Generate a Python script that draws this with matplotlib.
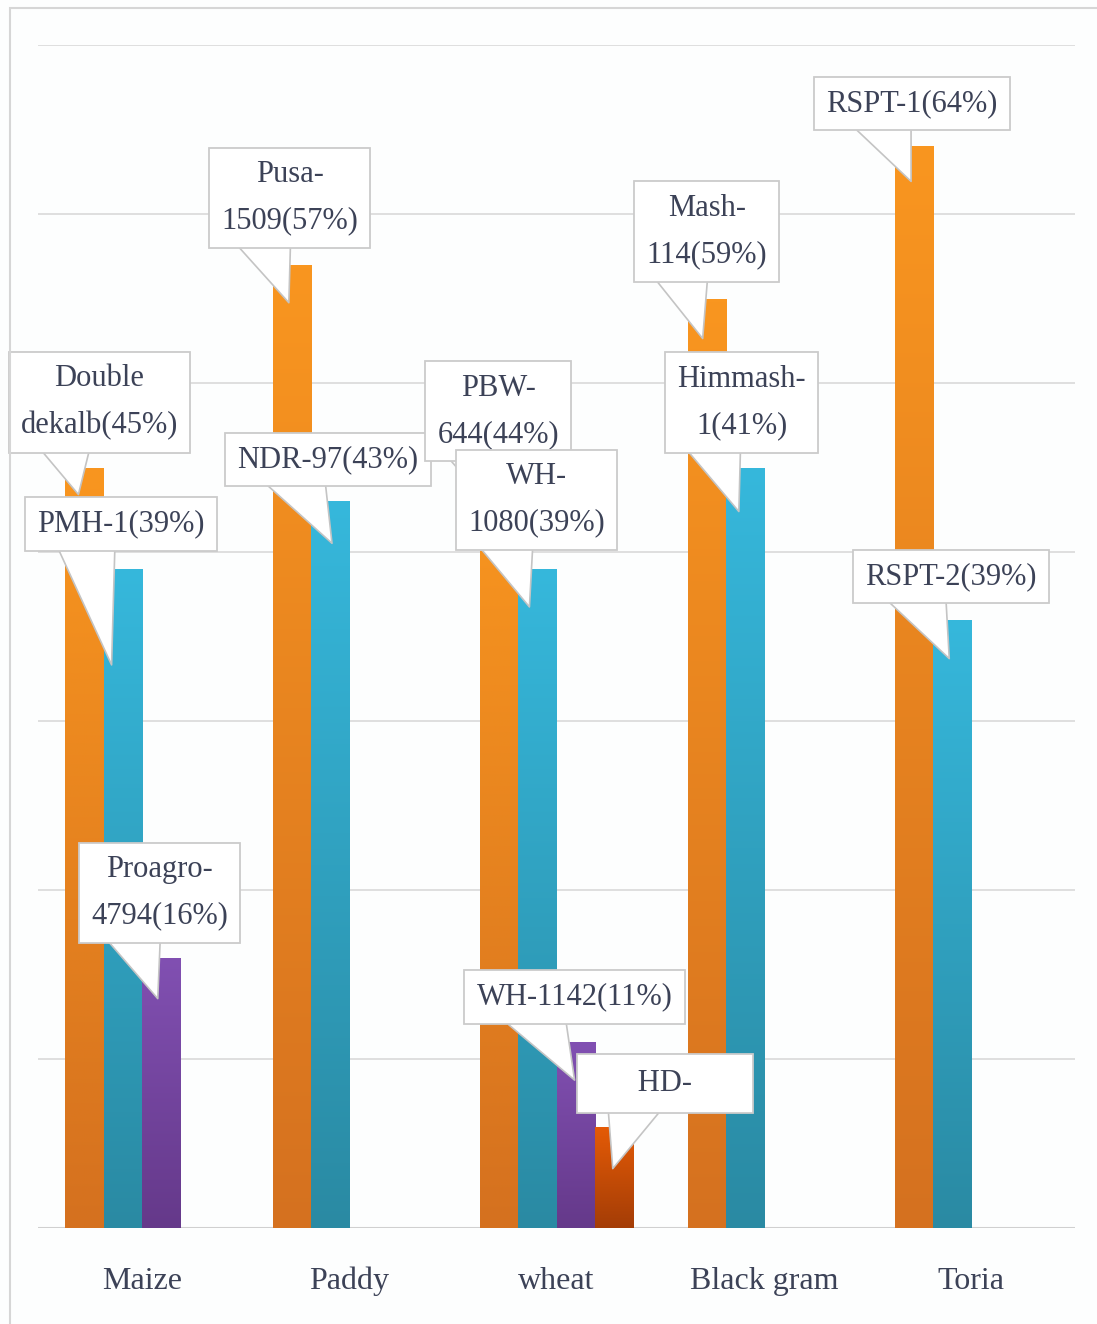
import numpy as np
import matplotlib
matplotlib.use("Agg")
import matplotlib.pyplot as plt
import matplotlib.transforms as mtransforms
from matplotlib.colors import LinearSegmentedColormap
from matplotlib.patches import Rectangle

plt.rcParams['font.family'] = ['Liberation Serif', 'DejaVu Serif']

categories = ['Maize', 'Paddy', 'wheat', 'Black gram', 'Toria']
variety1 = [45, 57, 44, 55, 64]
variety2 = [39, 43, 39, 45, 36]
variety3 = [16, 0, 11, 0, 0]
variety4 = [0, 0, 6, 0, 0]

labels1 = ['Double\ndekalb(45%)', 'Pusa-\n1509(57%)', 'PBW-\n644(44%)', 'Mash-\n114(59%)', 'RSPT-1(64%)']
labels2 = ['PMH-1(39%)', 'NDR-97(43%)', 'WH-\n1080(39%)', 'Himmash-\n1(41%)', 'RSPT-2(39%)']
labels3 = ['Proagro-\n4794(16%)', None, 'WH-1142(11%)', None, None]
labels4 = [None, None, '      HD-      ', None, None]

series = [variety1, variety2, variety3, variety4]
series_labels = [labels1, labels2, labels3, labels4]
# (top colour, bottom colour)
grads = [('#f9961f', '#d5711f'), ('#36b8dc', '#2a8aa3'),
         ('#8150b2', '#65398a'), ('#e55b06', '#a43d06')]

# callout geometry in pixels: tip offset from bar top, box offset from tip, pointer base position
callouts = {
    (0, 0): (-6, -27, 21, 92, 0.28),
    (0, 1): (-11, -96, 9, 141, 0.29),
    (0, 2): (-3, -41, 2, 106, 0.30),
    (1, 0): (-3, -38, 1, 105, 0.30),
    (1, 1): (2, -42, -4, 84, 0.32),
    (2, 0): (-5, -26, 4, 99, 0.30),
    (2, 1): (-8, -38, 7, 107, 0.27),
    (2, 2): (-1, -38, 0, 83, 0.30),
    (2, 3): (-1, -42, 52, 85, 0.30),
    (3, 0): (-4, -40, 4, 107, 0.28),
    (3, 1): (-6, -44, 3, 109, 0.27),
    (4, 0): (-3, -35, 1, 78, 0.33),
    (4, 1): (-3, -39, 2, 82, 0.30),
}

fig = plt.figure(figsize=(10.97, 13.24), dpi=100)
fig.patch.set_facecolor('#fdfefe')
fig.patches.append(Rectangle((0.009, -0.02), 1.02, 1.014, transform=fig.transFigure,
                             fc='none', ec='#d6d6d6', lw=1.5))
ax = fig.add_axes([0.0346, 0.0725, 0.9454, 0.8935])
ax.set_facecolor('none')

x = np.arange(len(categories))
width = 0.184
offsets = (np.arange(4) - 1.5) * width

grad = np.linspace(0, 1, 256).reshape(-1, 1)
for s, vals in enumerate(series):
    bars = ax.bar(x + offsets[s], vals, width, color='none', edgecolor='none', zorder=2)
    cmap = LinearSegmentedColormap.from_list('g%d' % s, [grads[s][1], grads[s][0]])
    for b in bars:
        if b.get_height() <= 0:
            continue
        x0, w, h = b.get_x(), b.get_width(), b.get_height()
        im = ax.imshow(grad, extent=[x0, x0 + w, 0, h], origin='lower', cmap=cmap,
                       aspect='auto', zorder=2)
        im.set_clip_path(b)

ax.set_xlim(-0.5, len(categories) - 0.5)
ax.set_ylim(0, 70)
ax.set_yticks(np.arange(10, 71, 10))
ax.yaxis.grid(True, color='#dcdcdc', lw=1.3, zorder=0)
ax.axhline(0, color='#d0d0d0', lw=1.5, zorder=1)
ax.set_axisbelow(True)
for sp in ax.spines.values():
    sp.set_visible(False)
ax.tick_params(axis='y', left=False, labelleft=False)
ax.set_xticks(x)
ax.set_xticklabels(categories, fontsize=23, color='#3c4257')
ax.tick_params(axis='x', length=0, pad=28)

z = 5
for ci in range(len(categories)):
    for s in range(4):
        lab = series_labels[s][ci]
        if lab is None:
            continue
        tdx, tdy, bdx, bdy, rel = callouts[(ci, s)]
        tip_tr = mtransforms.offset_copy(ax.transData, fig, x=tdx, y=tdy, units='dots')
        pad = 0.5 if s == 3 else 0.4
        ax.annotate(lab, xy=(x[ci] + offsets[s], series[s][ci]), xycoords=tip_tr,
                    xytext=(bdx, bdy), textcoords='offset pixels',
                    ha='center', va='center', fontsize=22, color='#3c4257',
                    linespacing=1.8, zorder=z,
                    bbox=dict(boxstyle='square,pad=%s' % pad, fc='white', ec='#cbcbcb', lw=1.3),
                    arrowprops=dict(arrowstyle='wedge,tail_width=2.2,shrink_factor=0.5',
                                    fc='white', ec='#c4c4c4', lw=1.2, relpos=(rel, 0.06),
                                    patchA=None, shrinkA=0, shrinkB=0, mutation_scale=20))
        z += 1

fig.savefig('out.png', dpi=100)
